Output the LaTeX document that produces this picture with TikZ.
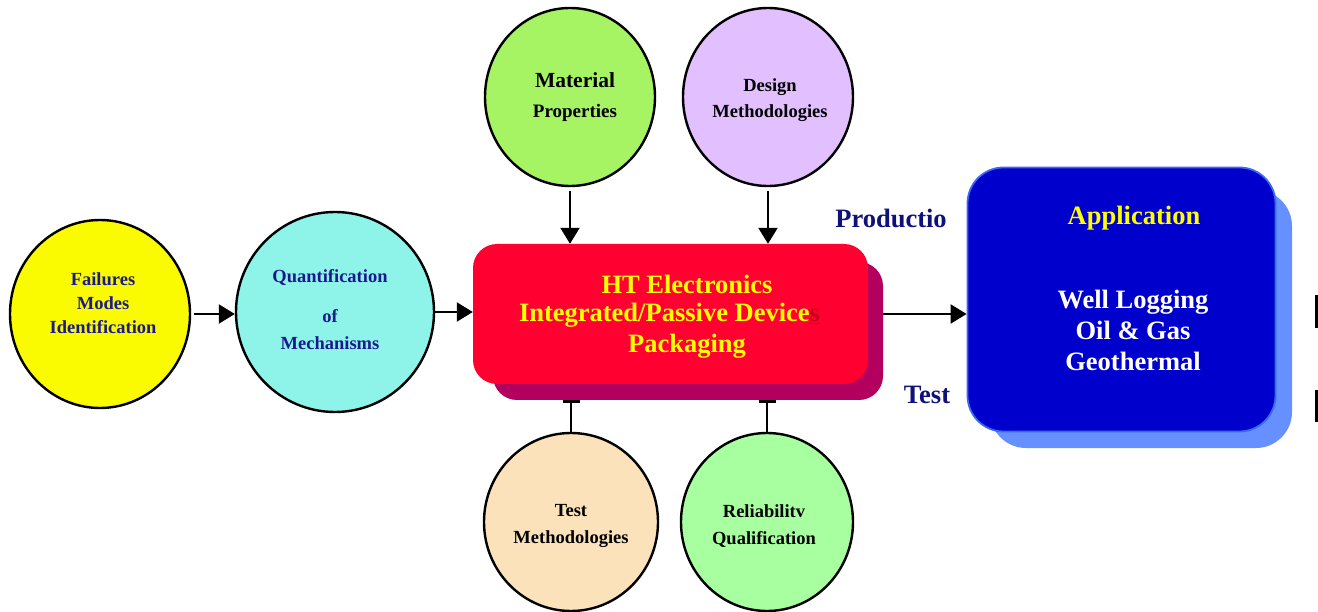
\documentclass[tikz,border=0pt]{standalone}
\usepackage{fontspec}
\setmainfont{Liberation Serif}
\usetikzlibrary{shapes.geometric,arrows.meta}
\definecolor{navy}{HTML}{1A1A8C}
\definecolor{darknavy}{HTML}{10107A}
\definecolor{cfail}{HTML}{FAFA00}
\definecolor{cquant}{HTML}{8EF4EA}
\definecolor{cmat}{HTML}{A6F363}
\definecolor{cdes}{HTML}{E2BFFF}
\definecolor{ctest}{HTML}{FBE2BA}
\definecolor{crel}{HTML}{A8FFA0}
\definecolor{ccore}{HTML}{FF0030}
\definecolor{ccoresh}{HTML}{B3005F}
\definecolor{capp}{HTML}{0000CC}
\definecolor{cappedge}{HTML}{3A68F2}
\definecolor{cappsh}{HTML}{6690FF}
\definecolor{hiddens}{HTML}{C00018}
\definecolor{ytext}{HTML}{FFFF00}
\begin{document}
\begin{tikzpicture}[x=1pt,y=-1pt,
  bubble/.style={ellipse,draw=black,line width=2.4pt,inner sep=0pt},
  arr/.style={line width=2.2pt,-{Triangle[length=16pt,width=19pt]}},
  tee/.style={line width=2.2pt,-{Bar[width=17pt,line width=3pt]}},
  lbl/.style={align=center,inner sep=0pt},
  big/.style={font=\bfseries\fontsize{26.5}{31}\selectfont,align=center,inner sep=0pt},
  panel/.style={rectangle,inner sep=0pt}]
\useasboundingbox (0,0) rectangle (1318,612);

% surrounding bubbles
\node[bubble,fill=cfail,minimum width=180pt,minimum height=188pt] (fail) at (100,314) {};
\node[bubble,fill=cquant,minimum width=198pt,minimum height=200pt] (quant) at (335,312) {};
\node[bubble,fill=cmat,minimum width=170pt,minimum height=178pt] (mat) at (570,97) {};
\node[bubble,fill=cdes,minimum width=170pt,minimum height=178pt] (des) at (768,97) {};
\node[bubble,fill=ctest,minimum width=174pt,minimum height=178pt] (testm) at (571,522) {};
\node[bubble,fill=crel,minimum width=172pt,minimum height=178pt] (rel) at (767,522) {};

% central package block with its shadow
\node[panel,fill=ccoresh,rounded corners=24pt,minimum width=390pt,minimum height=138pt] (coreshadow) at (688,331) {};
\node[panel,fill=ccore,rounded corners=24pt,minimum width=395pt,minimum height=140pt] (core) at (670.5,314) {};

% application block with its shadow
\node[panel,fill=cappsh,rounded corners=36pt,minimum width=302pt,minimum height=258pt] (appshadow) at (1141,319) {};
\node[panel,fill=capp,draw=cappedge,line width=1.8pt,rounded corners=36pt,minimum width=308pt,minimum height=264pt] (app) at (1121.5,299.5) {};

% connectors
\draw[arr] ([xshift=3pt]fail.east) -- (fail.east -| quant.west);
\draw[arr] (quant.east) -- (quant.east -| core.west);
\draw[arr] (core.east -| coreshadow.east) -- (core.east -| app.west);
\draw[arr] ([yshift=-4pt]mat.south) -- (mat.south |- core.north);
\draw[arr] ([yshift=-4pt]des.south) -- (des.south |- core.north);
\draw[tee] (testm.north) -- (testm.north |- coreshadow.south);
\draw[tee] (rel.north) -- (rel.north |- coreshadow.south);

% bubble texts
\node[lbl,text=navy,font=\bfseries\fontsize{18.5}{24}\selectfont] (failtxt) at (103,303) {Failures\\Modes\\Identification};
\node[lbl,text=navy,font=\bfseries\fontsize{18.5}{27}\selectfont] (quanttxt) at (330,310) {Quantification\\[13pt]of\\Mechanisms};
\node[lbl,text=black,font=\bfseries\fontsize{19}{30}\selectfont] (mattxt) at (575,97) {{\fontsize{21.5}{30}\selectfont Material}\\Properties};
\node[lbl,text=black,font=\bfseries\fontsize{18.5}{26}\selectfont] (destxt) at (770,100) {Design\\Methodologies};
\node[lbl,text=black,font=\bfseries\fontsize{18.5}{27}\selectfont] (testtxt) at (571,526) {Test\\Methodologies};
\node[lbl,text=black,font=\bfseries\fontsize{18.5}{27}\selectfont] (reltxt) at (764,526) {Reliabilitv\\Qualification};

% block texts
\node[big,text=ytext] (core1) at (687,284) {HT Electronics};
\node[big,text=ytext] (core2) at (669.5,315) {Integrated/Passive Device\textcolor{hiddens}{\underline{s}}};
\node[big,text=ytext] (core3) at (687,346) {Packaging};
\node[big,text=ytext] (apptitle) at (1134,218) {Application};
\node[big,text=white] (applist) at (1133,330) {Well Logging\\Oil \& Gas\\Geothermal};

% side captions
\node[big,text=darknavy] (prod) at (891,218) {Productio};
\node[big,text=darknavy] (testcap) at (927,395) {Test};

% marks at the right edge
\fill[black] (1315,295) rectangle (1318,328);
\fill[black] (1315,390) rectangle (1318,422);
\end{tikzpicture}
\end{document}
